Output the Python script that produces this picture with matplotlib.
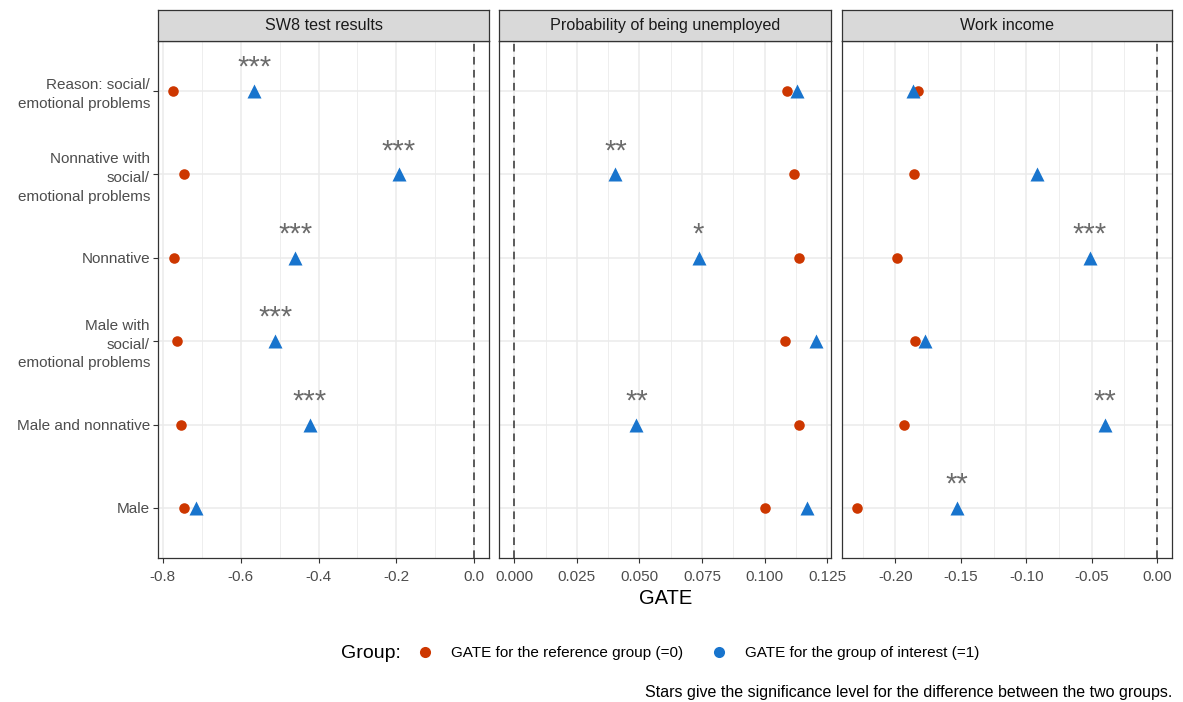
import matplotlib
matplotlib.use("Agg")
import matplotlib.pyplot as plt
from matplotlib.lines import Line2D
from matplotlib.ticker import FixedLocator, FormatStrFormatter
import numpy as np

plt.rcParams['font.family'] = ['Liberation Sans', 'DejaVu Sans']
plt.rcParams['axes.unicode_minus'] = False

# ---------------- data ----------------
categories = [
    "Reason: social/\nemotional problems",
    "Nonnative with\nsocial/\nemotional problems",
    "Nonnative",
    "Male with\nsocial/\nemotional problems",
    "Male and nonnative",
    "Male",
]
panel_titles = ["SW8 test results", "Probability of being unemployed", "Work income"]

sw8_ref = [-0.773, -0.746, -0.771, -0.763, -0.754, -0.746]
sw8_int = [-0.565, -0.194, -0.460, -0.511, -0.422, -0.714]
sw8_stars = ["***", "***", "***", "***", "***", ""]

unemp_ref = [0.1091, 0.1117, 0.1139, 0.1083, 0.1137, 0.1000]
unemp_int = [0.1129, 0.0404, 0.0736, 0.1204, 0.0488, 0.1168]
unemp_stars = ["", "**", "*", "", "**", ""]

inc_ref = [-0.1826, -0.1860, -0.1987, -0.1852, -0.1931, -0.2296]
inc_int = [-0.1867, -0.0919, -0.0513, -0.1776, -0.0401, -0.1530]
inc_stars = ["", "", "***", "", "**", "**"]

sw8_ticks = [-0.8, -0.6, -0.4, -0.2, 0.0]
unemp_ticks = [0.000, 0.025, 0.050, 0.075, 0.100, 0.125]
inc_ticks = [-0.20, -0.15, -0.10, -0.05, 0.00]
tick_formats = ["%.1f", "%.3f", "%.2f"]

legend_labels = ["GATE for the reference group (=0)", "GATE for the group of interest (=1)"]
col_ref = "#CD3700"
col_int = "#1874CD"

panels = [
    (sw8_ref, sw8_int, sw8_stars, sw8_ticks),
    (unemp_ref, unemp_int, unemp_stars, unemp_ticks),
    (inc_ref, inc_int, inc_stars, inc_ticks),
]

# ---------------- figure ----------------
W, H = 1183, 702
fig = plt.figure(figsize=(W / 100, H / 100), dpi=100)

def fx(px):
    return px / W

def fy(py):
    return 1 - py / H

panel_x = [(158.3, 489.3), (499.3, 830.7), (841.7, 1172.0)]
top_px, bot_px = 40.7, 558.0
strip_top = 10.0

n = len(categories)
ypos = np.arange(n, 0, -1)
border = "#333333"

for k, (ref, itr, stars, ticks) in enumerate(panels):
    x0, x1 = panel_x[k]
    ax = fig.add_axes([fx(x0), fy(bot_px), fx(x1 - x0), (bot_px - top_px) / H])
    ax.set_facecolor("white")
    # limits with ggplot-like 5% expansion (vline at 0 included)
    lo = min(min(ref), min(itr), 0.0)
    hi = max(max(ref), max(itr), 0.0)
    pad = 0.05 * (hi - lo)
    ax.set_xlim(lo - pad, hi + pad)
    ax.set_ylim(0.4, n + 0.6)

    ax.xaxis.set_major_locator(FixedLocator(ticks))
    step = ticks[1] - ticks[0]
    minors = [t - step / 2 for t in ticks] + [ticks[-1] + step / 2]
    ax.xaxis.set_minor_locator(FixedLocator(minors))
    ax.xaxis.set_major_formatter(FormatStrFormatter(tick_formats[k]))
    ax.grid(True, which="major", axis="both", color="#EBEBEB", lw=1.1, zorder=0)
    ax.grid(True, which="minor", axis="x", color="#EBEBEB", lw=0.6, zorder=0)
    ax.set_axisbelow(True)
    ax.tick_params(axis="x", which="minor", length=0)
    ax.tick_params(axis="both", which="major", length=3.5, width=0.8, color=border,
                   labelsize=11, labelcolor="#4D4D4D", pad=2.5)
    ax.tick_params(axis="x", which="major", pad=4.8)
    ax.set_yticks(ypos)
    if k == 0:
        ax.set_yticklabels(categories, linespacing=1.42)
    else:
        ax.set_yticklabels([])
        ax.tick_params(axis="y", length=0)
    for s in ax.spines.values():
        s.set_color(border)
        s.set_linewidth(0.9)

    ax.axvline(0, color=border, lw=1.1, ls=(0, (5, 3.5)), zorder=1)
    ax.plot(ref, ypos, ls="none", marker="o", ms=7.6, color=col_ref, mec="none", zorder=3)
    ax.plot(itr, ypos, ls="none", marker="^", ms=9.8, color=col_int, mec="none", zorder=4)
    for xv, yv, st in zip(itr, ypos, stars):
        if st:
            ax.text(xv, yv + 0.18, st, ha="center", va="baseline", fontsize=21,
                    color="#6B6B6B", zorder=5)

    # strip
    sax = fig.add_axes([fx(x0), fy(top_px), fx(x1 - x0), (top_px - strip_top) / H])
    sax.set_facecolor("#D9D9D9")
    sax.set_xticks([])
    sax.set_yticks([])
    for s in sax.spines.values():
        s.set_color(border)
        s.set_linewidth(0.9)
    sax.text(0.5, 0.5, panel_titles[k], ha="center", va="center", fontsize=11.6,
             color="#1A1A1A", transform=sax.transAxes)

# x label
fig.text(fx((158.3 + 1172) / 2), fy(599), "GATE", ha="center", va="center", fontsize=14.5,
         color="black")

# legend
handles = [Line2D([], [], ls="none", marker="o", ms=8, color=col_ref, mec="none"),
           Line2D([], [], ls="none", marker="o", ms=8, color=col_int, mec="none")]
fig.legend(handles, legend_labels, loc="center left", bbox_to_anchor=(fx(416), fy(653)),
           ncol=2, frameon=False, fontsize=11, handletextpad=1.1, columnspacing=1.75,
           handlelength=1.2, borderaxespad=0, borderpad=0)
fig.text(fx(401), fy(653), "Group:", ha="right", va="center", fontsize=14, color="black")

# caption
fig.text(fx(1172), fy(692), "Stars give the significance level for the difference between the two groups.",
         ha="right", va="center", fontsize=11.5, color="black")

fig.savefig("out.png", dpi=100, facecolor="white")
